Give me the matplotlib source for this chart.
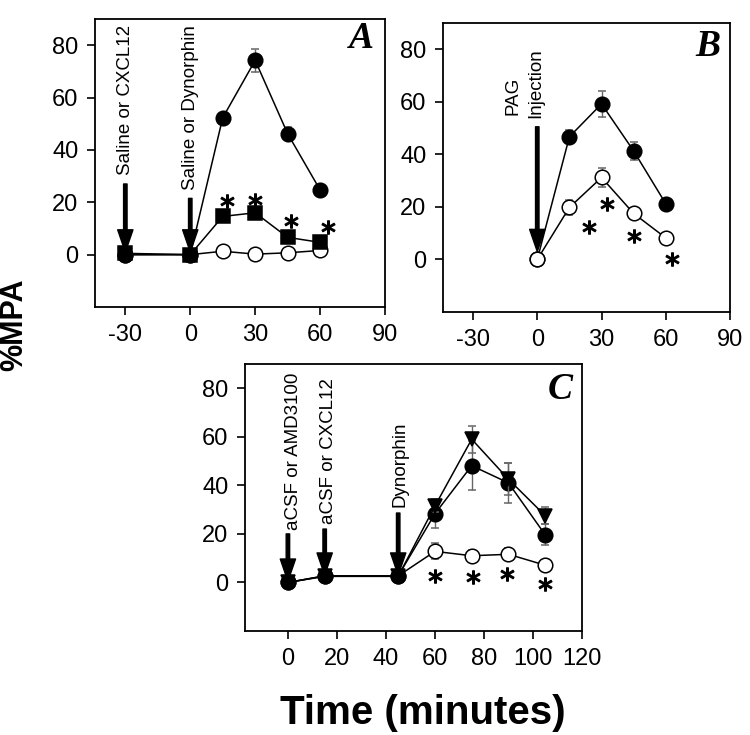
import matplotlib.pyplot as plt

plt.rcParams['font.family'] = ['Liberation Sans', 'DejaVu Sans']
plt.rcParams['axes.unicode_minus'] = False

# ---- panel A data ----
a_x = [-30, 0, 15, 30, 45, 60]
a_dyn = [0, 0, 52.3, 74.2, 46.2, 24.7]
a_dyn_err = [0, 0, 1.5, 4.5, 2.5, 1.0]
a_cxcl = [0.5, 0, 14.6, 16.0, 6.6, 4.7]
a_cxcl_err = [0, 0, 1.0, 1.0, 1.0, 0.8]
a_sal = [0, 0, 1.3, 0.2, 0.7, 1.6]
a_sal_err = [0, 0, 0.5, 0.3, 0.3, 0.5]
a_star_x = [17, 30, 46.5, 63.5]
a_star_y = [20.5, 21, 12.8, 10.6]

# ---- panel B data ----
b_x = [0, 15, 30, 45, 60]
b_filled = [0, 46.7, 59.2, 41.3, 21.2]
b_filled_err = [0, 2.5, 4.8, 3.5, 1.5]
b_open = [0, 19.8, 31.2, 17.5, 8.2]
b_open_err = [0, 3.0, 3.5, 1.0, 0.5]
b_star_x = [24.3, 32.5, 45.3, 62.8]
b_star_y = [12.5, 21, 9, 0]

# ---- panel C data ----
c_x = [0, 15, 45, 60, 75, 90, 105]
c_tri = [0, 2.5, 2.5, 31.5, 59.0, 42.5, 27.5]
c_tri_err = [0, 0, 0, 2.5, 5.5, 6.5, 3.5]
c_filled = [0, 2.7, 2.7, 28.3, 48.1, 41.0, 19.6]
c_filled_err = [0, 0.5, 0.5, 6.0, 10.0, 8.2, 4.3]
c_open = [0, 2.7, 2.7, 12.8, 11.0, 11.6, 7.1]
c_open_err = [0, 0.3, 0.3, 3.3, 2.5, 2.5, 0.5]
c_star_x = [60, 75.5, 89.4, 104.7]
c_star_y = [2.7, 2.3, 3.3, -0.5]

# arrows: (x, y_start, y_end) and labels: (text, x, y_bottom)
a_arrows = [(-30, 27, 1), (0, 21.5, 1)]
a_labels = [('Saline or CXCL12', -30, 30.5), ('Saline or Dynorphin', 0, 24.7)]
b_arrows = [(0, 50.5, 3)]
b_labels = [('PAG', -11.5, 55), ('Injection', -0.6, 54)]
c_arrows = [(0, 20, 0.5), (15, 22, 3), (45, 28.6, 3)]
c_labels = [('aCSF or AMD3100', 2.2, 21.5), ('aCSF or CXCL12', 16.5, 24),
            ('Dynorphin', 45.8, 31)]

fig = plt.figure(figsize=(7.5, 7.35), dpi=100)
axA = fig.add_axes([0.1267, 0.5823, 0.3867, 0.3918])
axB = fig.add_axes([0.5907, 0.5755, 0.3827, 0.3932])
axC = fig.add_axes([0.3267, 0.1415, 0.4493, 0.3633])

ebar = dict(ecolor='#666666', elinewidth=1, capsize=3, capthick=1)
ms = 10.5


def series(ax, x, y, err, marker, fc, z):
    ax.errorbar(x, y, yerr=err, fmt='-', color='black', lw=1.1, marker=marker,
                ms=ms, mfc=fc, mec='black', mew=1.1, zorder=z, **ebar)


def stars(ax, x, y):
    ax.plot(x, y, ls='none', marker='$*$', ms=9.5, color='black', zorder=10)


def arrows(ax, arr, labels):
    for x, y0, y1 in arr:
        ax.annotate('', xy=(x, y1), xytext=(x, y0),
                    arrowprops=dict(facecolor='black', edgecolor='black',
                                    width=2.5, headwidth=11, headlength=16,
                                    shrink=0), zorder=9)
    for txt, x, y in labels:
        ax.text(x, y, txt, rotation=90, ha='center', va='bottom',
                fontsize=13.5, zorder=9)


def style(ax, xlim, xticks, letter, lpos):
    ax.set_xlim(xlim)
    ax.set_ylim(-20, 90)
    ax.set_xticks(xticks)
    ax.set_yticks([0, 20, 40, 60, 80])
    ax.tick_params(direction='out', length=6, width=1.2, labelsize=17, pad=6)
    for s in ax.spines.values():
        s.set_linewidth(1.3)
    ax.text(lpos[0], lpos[1], letter, transform=ax.transAxes, ha='center',
            va='center', fontsize=27, fontweight='bold', fontstyle='italic',
            family='Liberation Serif')


# panel A
series(axA, a_x, a_sal, a_sal_err, 'o', 'white', 3)
series(axA, a_x, a_dyn, a_dyn_err, 'o', 'black', 4)
series(axA, a_x, a_cxcl, a_cxcl_err, 's', 'black', 5)
stars(axA, a_star_x, a_star_y)
arrows(axA, a_arrows, a_labels)
style(axA, (-44, 90), [-30, 0, 30, 60, 90], 'A', (0.92, 0.934))

# panel B
series(axB, b_x, b_filled, b_filled_err, 'o', 'black', 3)
series(axB, b_x, b_open, b_open_err, 'o', 'white', 4)
stars(axB, b_star_x, b_star_y)
arrows(axB, b_arrows, b_labels)
style(axB, (-44, 90), [-30, 0, 30, 60, 90], 'B', (0.923, 0.918))

# panel C
series(axC, c_x, c_open, c_open_err, 'o', 'white', 3)
series(axC, c_x, c_filled, c_filled_err, 'o', 'black', 4)
series(axC, c_x, c_tri, c_tri_err, 'v', 'black', 5)
stars(axC, c_star_x, c_star_y)
arrows(axC, c_arrows, c_labels)
style(axC, (-17.5, 120), [0, 20, 40, 60, 80, 100, 120], 'C', (0.935, 0.903))

fig.text(0.019, 0.558, '%MPA', rotation=90, ha='center', va='center',
         fontsize=22, fontweight='bold')
fig.text(0.564, 0.03, 'Time (minutes)', ha='center', va='center',
         fontsize=29, fontweight='bold')

fig.savefig('out.png', dpi=100)
